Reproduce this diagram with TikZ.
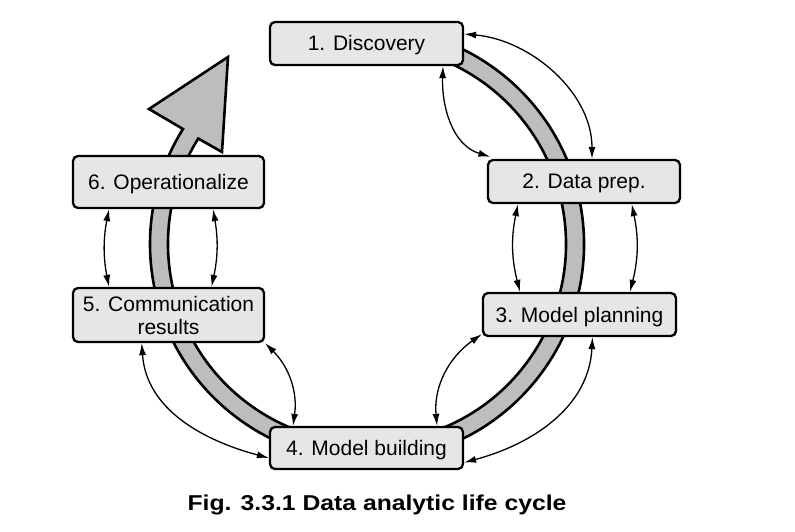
\documentclass[tikz,border=0pt]{standalone}
\usepackage{fontspec}
\usepackage{graphicx}
\setmainfont{Liberation Sans}
\usetikzlibrary{arrows.meta,calc}
\definecolor{boxfill}{HTML}{E6E6E8}
\definecolor{bandfill}{HTML}{BDBDBD}
\tikzset{
  stage/.style={draw=black, line width=2.3pt, fill=boxfill, rounded corners=5pt,
    inner sep=0pt, text height=15pt, text depth=0pt, align=center,
    font=\fontsize{21}{23}\selectfont},
  conn/.style={line width=1.3pt, arrows={Latex[length=12pt,width=7pt]-Latex[length=12pt,width=7pt]}},
  band/.style={draw=black, line width=2.6pt, fill=bandfill, line join=miter},
}
\begin{document}
\begin{tikzpicture}[x=1pt,y=1pt]
\useasboundingbox (0,0) rectangle (795,531);
\fill[white] (0,0) rectangle (795,531);
\coordinate (C) at (367,287);
% big cycle band with arrow head
\filldraw[band] ([shift={(100:217pt)}]C) arc[start angle=100, end angle=-212, radius=217pt]
  -- (149,422) -- (228,474) -- (222,379)
  -- ([shift={(-212:199pt)}]C) arc[start angle=-212, end angle=100, radius=199pt] -- cycle;
% stages
\node[stage, minimum width=193pt, minimum height=43pt] (n1) at (366.5,487.5) {1. Discovery};
\node[stage, minimum width=192pt, minimum height=43pt] (n2) at (584,349.5) {2. Data prep.};
\node[stage, minimum width=193pt, minimum height=43pt] (n3) at (579.5,216.5) {3. Model planning};
\node[stage, minimum width=193pt, minimum height=42pt] (n4) at (366.5,83) {4. Model building};
\node[stage, minimum width=191pt, minimum height=54pt, text height=38pt] (n5) at (168.5,216) {5. Communication\\results};
\node[stage, minimum width=191pt, minimum height=52pt] (n6) at (168.5,349) {6. Operationalize};
% connectors
\draw[conn] ([yshift=9.5pt]n1.east) to[out=-5,in=90,looseness=0.95] ([xshift=8pt]n2.north);
\draw[conn] ([xshift=76.5pt]n1.south) to[out=-92,in=163] ([xshift=3.5pt,yshift=2pt]n2.north west);
\draw[conn] ([xshift=-66pt]n2.south) to[bend right=13] ([xshift=-59.5pt]n3.north);
\draw[conn] ([xshift=47.7pt]n2.south) to[bend left=13] ([xshift=50.5pt]n3.north);
\draw[conn] ([yshift=3pt]n3.south west) to[out=215,in=95] ([xshift=70.5pt]n4.north);
\draw[conn] ([xshift=13pt]n3.south) to[out=-93,in=15] ([yshift=-14.5pt]n4.east);
\draw[conn] (n5.south east) to[out=-45,in=82] ([xshift=-73.5pt]n4.north);
\draw[conn] ([xshift=-26.8pt]n5.south) to[out=-86,in=165] ([yshift=-10pt]n4.west);
\draw[conn] ([xshift=-59.5pt]n6.south) to[bend right=11] ([xshift=-59.5pt]n5.north);
\draw[conn] ([xshift=44.5pt]n6.south) to[bend left=11] ([xshift=43pt]n5.north);
% caption
\node[anchor=base, inner sep=0pt, font=\bfseries\fontsize{21.5}{24}\selectfont] (cap) at (377,21)
  {\scalebox{1.15}[1]{Fig. 3.3.1 Data analytic life cycle}};
\end{tikzpicture}
\end{document}
